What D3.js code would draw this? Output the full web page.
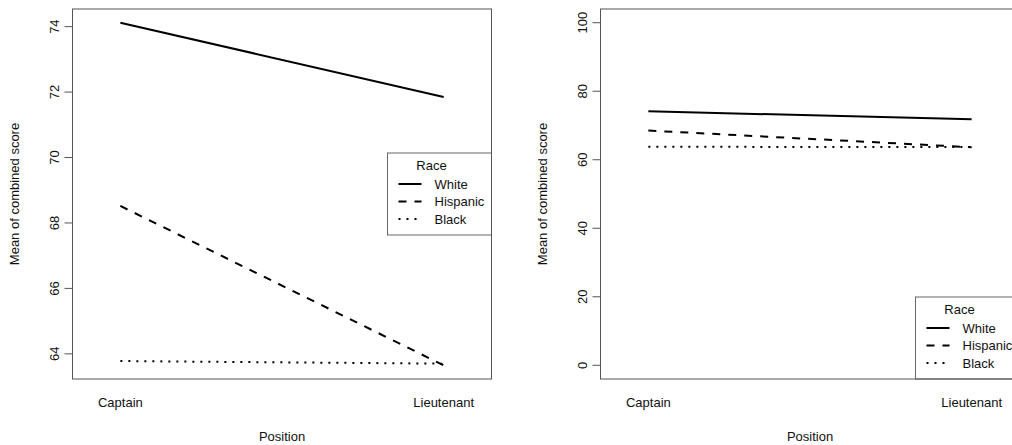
<!DOCTYPE html>
<html>
<head>
<meta charset="utf-8">
<script src="https://cdn.jsdelivr.net/npm/d3@7"></script>
<style>
  body { margin: 0; background: #fff; overflow: hidden; }
  text { font-family: "Liberation Sans", Arial, sans-serif; fill: #111; }
</style>
</head>
<body>
<script>
const positions = ["Captain", "Lieutenant"];
const races = ["White", "Hispanic", "Black"];
const whiteMeans = [74.12, 71.85];
const hispanicMeans = [68.52, 63.65];
const blackMeans = [63.78, 63.70];
const leftTicks = [64, 66, 68, 70, 72, 74];
const rightTicks = [0, 20, 40, 60, 80, 100];

const seriesValues = [whiteMeans, hispanicMeans, blackMeans];
const dashes = [null, "8,8", "2,6"];
const fs = "13px";

const w = 1012, h = 445;
const svg = d3.select("body").append("svg")
  .attr("width", w).attr("height", h);

function panel(left, yDomain, ticks, legendTop) {
  const plotW = 419, top = 9, bottom = 379;
  const right = left + plotW;
  const g = svg.append("g");

  // interaction.plot style xlim (levels 1..2 padded by 0.1, then 4% extension)
  const xlim = [0.9, 2.1];
  const xr = xlim[1] - xlim[0];
  const xScale = d3.scaleLinear()
    .domain([xlim[0] - 0.04 * xr, xlim[1] + 0.04 * xr])
    .range([left, right]);

  const yr = yDomain[1] - yDomain[0];
  const yScale = d3.scaleLinear()
    .domain([yDomain[0] - 0.04 * yr, yDomain[1] + 0.04 * yr])
    .range([bottom, top]);

  const yAxis = d3.axisLeft(yScale).tickValues(ticks).tickSize(8).tickPadding(6);
  const ya = g.append("g").attr("transform", `translate(${left},0)`).call(yAxis);
  ya.select(".domain").remove();
  ya.selectAll("line").attr("stroke", "#555");
  ya.selectAll("text")
    .style("font-size", fs)
    .attr("transform", function (d) { return `rotate(-90, -18, ${yScale(d)})`; })
    .attr("x", -18).attr("y", d => yScale(d)).attr("dy", "0.35em")
    .attr("text-anchor", "middle");
  ya.selectAll(".tick").attr("transform", null);
  ya.selectAll(".tick line").attr("y1", d => yScale(d)).attr("y2", d => yScale(d));

  // x labels (no axis line)
  g.selectAll(".xl").data(positions).enter().append("text")
    .attr("x", (d, i) => xScale(i + 1)).attr("y", 407)
    .attr("text-anchor", "middle").style("font-size", fs).text(d => d);

  g.append("text").attr("x", (left + right) / 2).attr("y", 441)
    .attr("text-anchor", "middle").style("font-size", fs).text("Position");

  g.append("text")
    .attr("transform", `translate(${left - 54},${(top + bottom) / 2}) rotate(-90)`)
    .attr("text-anchor", "middle").style("font-size", fs)
    .text("Mean of combined score");

  const line = d3.line().x((d, i) => xScale(i + 1)).y(d => yScale(d));
  g.selectAll(".series").data(seriesValues).enter().append("path")
    .attr("d", d => line(d)).attr("fill", "none").attr("stroke", "#000")
    .attr("stroke-width", 2)
    .attr("stroke-dasharray", (d, i) => dashes[i]);

  // legend
  const lx = right - 104, lh = 82;
  const lg = g.append("g").attr("transform", `translate(${lx},${legendTop})`);
  lg.append("rect").attr("width", 104).attr("height", lh)
    .attr("fill", "#fff").attr("stroke", "#666").attr("stroke-width", 1);
  lg.append("text").attr("x", 44).attr("y", 17).attr("text-anchor", "middle")
    .style("font-size", fs).text("Race");
  const items = lg.selectAll(".it").data(races).enter().append("g")
    .attr("transform", (d, i) => `translate(0,${31 + i * 17.5})`);
  items.append("line").attr("x1", 11).attr("x2", 34).attr("y1", 0).attr("y2", 0)
    .attr("stroke", "#000").attr("stroke-width", 2)
    .attr("stroke-dasharray", (d, i) => dashes[i]);
  items.append("text").attr("x", 47).attr("dy", "0.35em")
    .style("font-size", fs).text(d => d);

  // box
  g.append("rect").attr("x", left).attr("y", top).attr("width", plotW)
    .attr("height", bottom - top).attr("fill", "none")
    .attr("stroke", "#555").attr("stroke-width", 1);
}

const allVals = seriesValues.flat();
panel(72.5, [d3.min(allVals), d3.max(allVals)], leftTicks, 153);
panel(600.5, [0, 100], rightTicks, 297);
</script>
</body>
</html>
